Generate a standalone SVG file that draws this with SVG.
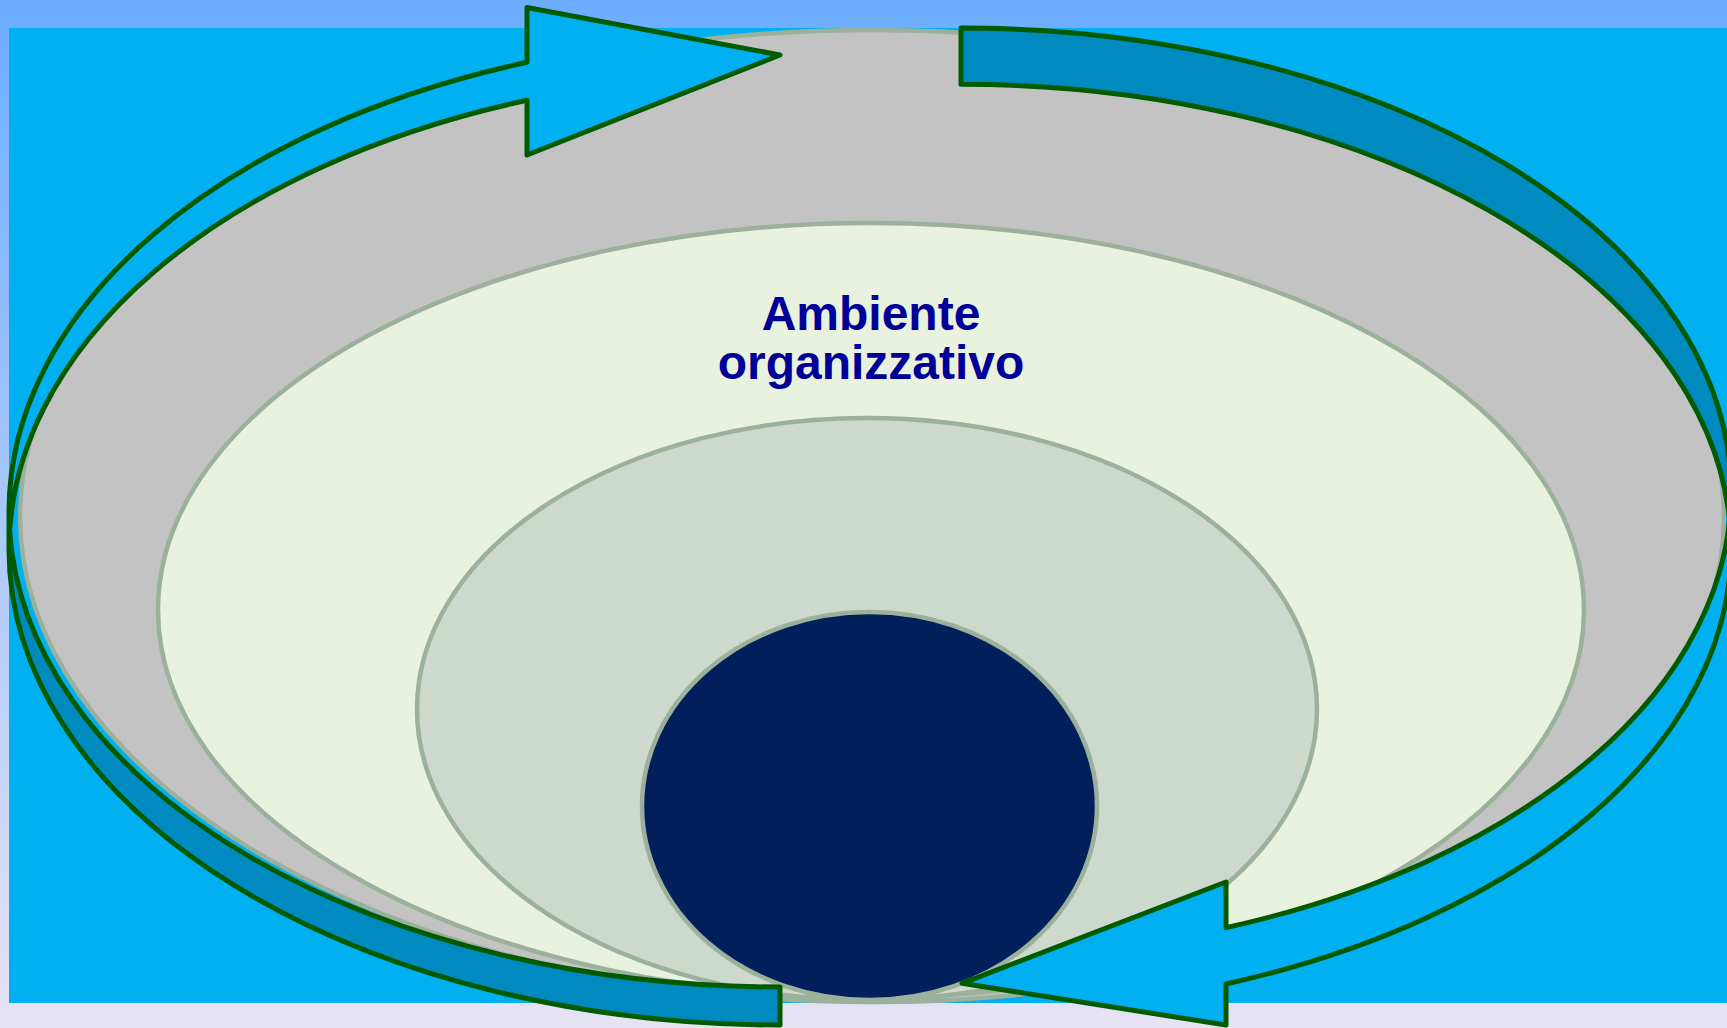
<svg xmlns="http://www.w3.org/2000/svg" width="1727" height="1028" viewBox="0 0 1727 1028">
<defs>
<linearGradient id="bg" x1="0" y1="0" x2="0" y2="1">
<stop offset="0" stop-color="#6BADFF"/>
<stop offset="1" stop-color="#E6E3F4"/>
</linearGradient>
</defs>
<style>
.ring{stroke:#9BB19B;stroke-width:4.5}
.front{fill:#00B0F0;stroke:none}
.back{fill:#008BC0;stroke:none}
.outline{fill:none;stroke:#005A00;stroke-width:5;stroke-linejoin:round}
.label{font-family:"Liberation Sans",Arial,sans-serif;font-weight:bold;font-size:48px;fill:#000099;text-anchor:middle}
</style>
<rect x="0" y="0" width="1727" height="1028" fill="url(#bg)"/>
<rect x="9" y="28" width="1718" height="975" fill="#00B0F0"/>
<g id="ring-outer"><ellipse class="ring" cx="872" cy="516" rx="852" ry="486" fill="#C3C3C3"/></g>
<g id="ring-environment"><ellipse class="ring" cx="871" cy="610" rx="713" ry="387" fill="#E8F2DF"/>
<text class="label" x="871" y="330">Ambiente</text>
<text class="label" x="871" y="379">organizzativo</text></g>
<g id="ring-middle"><ellipse class="ring" cx="867" cy="709" rx="450" ry="291" fill="#CDD9CD"/></g>
<g id="core"><ellipse class="ring" cx="869.5" cy="806" rx="227.5" ry="194" fill="#001F5B"/></g>
<g id="connectors">
<g id="arrow-left">
<path class="front" d="M 9 549.5 A 771 475.5 0 0 1 527 100.3 L 527 155 L 780 55 L 527 7.5 L 527 62.3 A 771 475.5 0 0 0 9 511.5 Z"/>
<path class="back" d="M 780 987 A 771 475.5 0 0 1 9.62 530.5 A 771 475.5 0 0 0 780 1025 Z"/>
<path class="outline" d="M 9 549.5 A 771 475.5 0 0 1 527 100.3 L 527 155 L 780 55 L 527 7.5 L 527 62.3 A 771 475.5 0 0 0 9 511.5 L 9 549.5 A 771 475.5 0 0 0 780 1025 L 780 987 A 771 475.5 0 0 1 9.62 530.5"/>
</g>
<g id="arrow-right">
<path class="front" d="M 1731 492 A 770 464 0 0 1 1226 927.65 L 1226 882 L 962 983.3 L 1226 1025 L 1226 983.95 A 770 464 0 0 0 1731 548.3 Z"/>
<path class="back" d="M 961 84.3 A 770 464 0 0 1 1729.6 520.15 A 770 464 0 0 0 961 28 Z"/>
<path class="outline" d="M 1731 492 A 770 464 0 0 1 1226 927.65 L 1226 882 L 962 983.3 L 1226 1025 L 1226 983.95 A 770 464 0 0 0 1731 548.3 L 1731 492 A 770 464 0 0 0 961 28 L 961 84.3 A 770 464 0 0 1 1729.6 520.15"/>
</g>
</g>
</svg>
